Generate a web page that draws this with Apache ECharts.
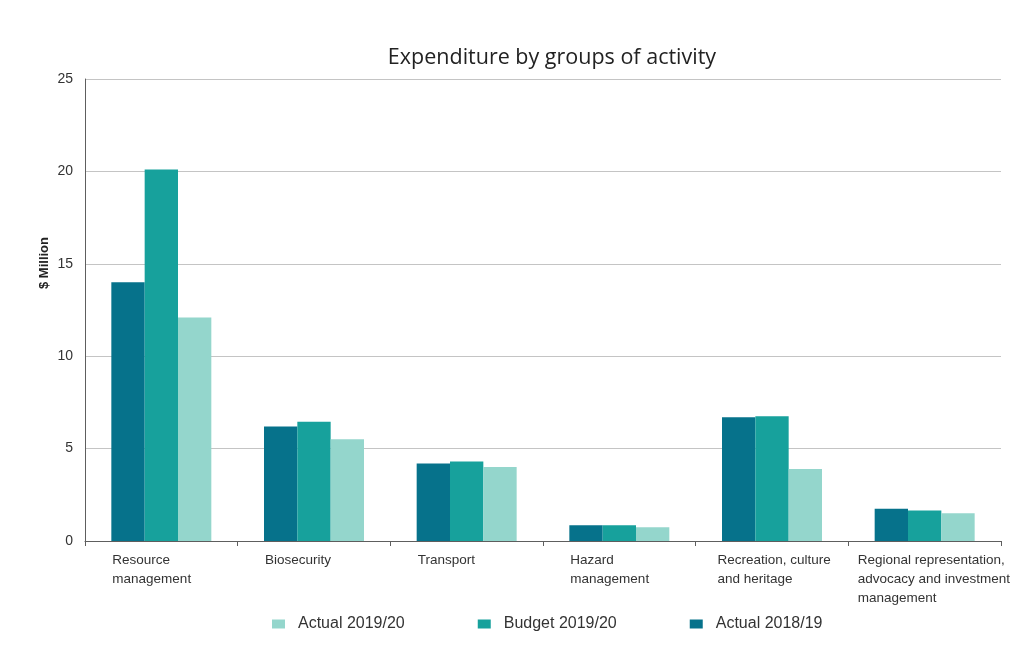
<!DOCTYPE html>
<html>
<head>
<meta charset="utf-8">
<script src="https://cdn.jsdelivr.net/npm/echarts@6/dist/echarts.min.js"></script>
<style>
  html, body { margin: 0; padding: 0; background: #fff; }
  #chart { width: 1012px; height: 655px; }
</style>
</head>
<body>
<div id="chart"></div>
<script>
// Groups of activity (line breaks as printed under the axis)
const categories = [
  ['Resource', 'management'],
  ['Biosecurity'],
  ['Transport'],
  ['Hazard', 'management'],
  ['Recreation, culture', 'and heritage'],
  ['Regional representation,', 'advocacy and investment', 'management']
];

// Expenditure, $ million
const actual2018 = [14.0, 6.2, 4.2, 0.85, 6.7, 1.75];
const budget2019 = [20.1, 6.45, 4.3, 0.85, 6.75, 1.65];
const actual2019 = [12.1, 5.5, 4.0, 0.75, 3.9, 1.5];

const yTicks = [0, 5, 10, 15, 20, 25];

const COLORS = {
  actual2018: '#06728b',
  budget2019: '#17a19c',
  actual2019: '#94d6cc'
};

const narrow = "'Liberation Sans Narrow', 'Arial Narrow', 'Liberation Sans', sans-serif";

// Each label block is centred on its category; its width sets where the
// left-aligned text starts (wider block = closer to the left tick).
const labelBlockWidths = [98, 98, 98, 98, 109, 134];
const labelRich = {};
labelBlockWidths.forEach((w, i) => {
  labelRich['c' + i] = {
    width: w,
    align: 'left',
    fontFamily: narrow,
    fontSize: 13.5,
    lineHeight: 19,
    color: '#333333'
  };
});

const chart = echarts.init(document.getElementById('chart'), null, { renderer: 'canvas' });

chart.setOption({
  backgroundColor: '#ffffff',
  animation: false,
  title: {
    text: 'Expenditure by groups of activity',
    left: 552,
    top: 47,
    padding: 0,
    textAlign: 'center',
    textStyle: {
      fontFamily: "'Open Sans', 'Noto Sans', sans-serif",
      fontSize: 21.5,
      fontWeight: 'normal',
      color: '#222222'
    }
  },
  legend: {
    left: 272,
    top: 616,
    padding: 0,
    itemWidth: 13,
    itemHeight: 9,
    itemGap: 73,
    icon: 'rect',
    data: ['Actual 2019/20', 'Budget 2019/20', 'Actual 2018/19'],
    textStyle: {
      fontFamily: narrow,
      fontSize: 16,
      color: '#333333',
      padding: [0, 0, 0, 8]
    }
  },
  grid: {
    left: 85, right: 11, top: 79, bottom: 114,
    containLabel: false,
    outerBoundsMode: 'none'
  },
  graphic: [{
    type: 'text',
    left: 38,
    top: 237,
    rotation: Math.PI / 2,
    style: {
      text: '$ Million',
      fontFamily: "'Liberation Sans', Arial, sans-serif",
      fontWeight: 'bold',
      fontSize: 13,
      fill: '#222222'
    }
  }],
  xAxis: {
    type: 'category',
    data: categories.map(c => c.join('\n')),
    axisLine: { lineStyle: { color: '#5e5e5e', width: 1 } },
    axisTick: { show: true, length: 5, lineStyle: { color: '#5e5e5e' } },
    axisLabel: {
      interval: 0,
      margin: 10,
      align: 'center',
      formatter: (v, i) => v.split('\n').map(s => '{c' + i + '|' + s + '}').join('\n'),
      rich: labelRich
    }
  },
  yAxis: {
    type: 'value',
    min: yTicks[0],
    max: yTicks[yTicks.length - 1],
    interval: 5,
    axisLine: { show: true, lineStyle: { color: '#5e5e5e', width: 1 } },
    axisTick: { show: false },
    axisLabel: {
      margin: 12,
      fontFamily: narrow,
      fontSize: 14,
      color: '#333333'
    },
    splitLine: { lineStyle: { color: '#c4c4c4', width: 1 } }
  },
  series: [
    {
      name: 'Actual 2018/19',
      type: 'bar',
      data: actual2018,
      itemStyle: { color: COLORS.actual2018 },
      barGap: '0%',
      barCategoryGap: '34.5%'
    },
    {
      name: 'Budget 2019/20',
      type: 'bar',
      data: budget2019,
      itemStyle: { color: COLORS.budget2019 }
    },
    {
      name: 'Actual 2019/20',
      type: 'bar',
      data: actual2019,
      itemStyle: { color: COLORS.actual2019 }
    }
  ]
});
</script>
</body>
</html>
